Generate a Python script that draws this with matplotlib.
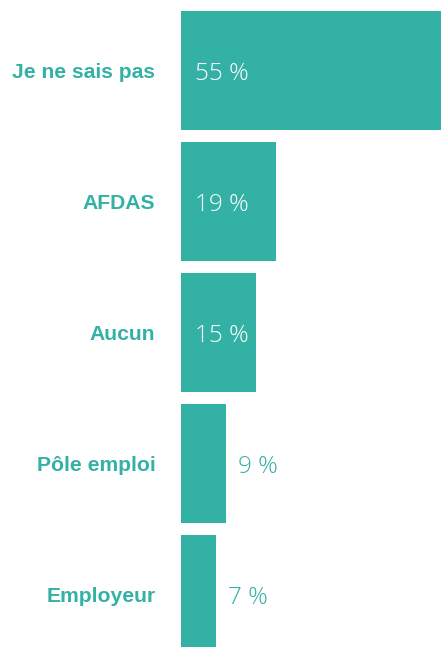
import matplotlib
matplotlib.use("Agg")
import matplotlib.pyplot as plt

categories = ["Je ne sais pas", "AFDAS", "Aucun", "Pôle emploi", "Employeur"]
values = [55, 19, 15, 9, 7]

teal = "#34b1a5"
W, H, DPI = 441, 647, 100

fig = plt.figure(figsize=(W / DPI, H / DPI), dpi=DPI)
ax = fig.add_axes([181 / W, 0, 260 / W, 1])

pos = list(range(len(categories)))
ax.barh(pos, values, height=0.908, color=teal)
ax.set_xlim(0, 52)
ax.set_ylim((H - 70.5) / 131, -70.5 / 131)

ax.set_yticks(pos)
ax.set_yticklabels(categories, fontsize=15.2, fontweight="bold",
                   color=teal, family="Liberation Sans")
ax.tick_params(axis="y", length=0, pad=18.5)
ax.set_xticks([])
for s in ax.spines.values():
    s.set_visible(False)

# values inside the long bars are white, short ones get a teal label outside
for i, v in enumerate(values):
    if v >= 12:
        ax.text(2.8, i + 0.03, f"{v} %", color="white", va="center", ha="left",
                fontsize=17.5, family="Open Sans", fontweight="light")
    else:
        ax.text(v + 2.5, i + 0.03, f"{v} %", color=teal, va="center", ha="left",
                fontsize=17.5, family="Open Sans", fontweight="light")

fig.savefig("out.png", dpi=DPI)
